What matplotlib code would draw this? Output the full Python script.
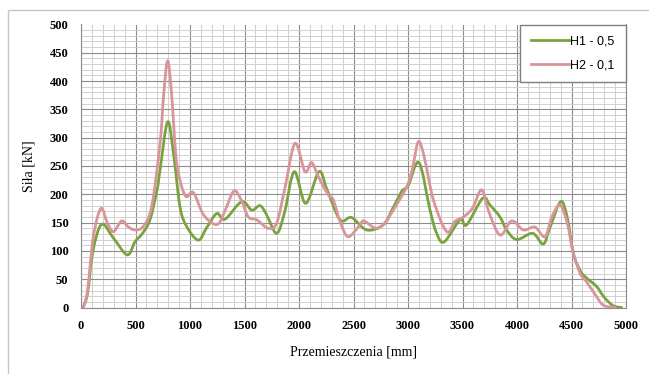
import numpy as np
import matplotlib
matplotlib.use("Agg")
import matplotlib.pyplot as plt
from matplotlib.path import Path
from matplotlib.patches import PathPatch, Rectangle
from matplotlib.lines import Line2D
from matplotlib.ticker import MultipleLocator

# values (x in mm, y in kN)
h1_x = [20, 60, 110, 190, 300, 425, 495, 560, 633, 700, 725, 795, 850, 908, 970,
        1076, 1150, 1245, 1321, 1474, 1566, 1642, 1700, 1795, 1870, 1957, 2061,
        2183, 2254, 2376, 2483, 2621, 2773, 2860, 2942, 3003, 3101, 3202, 3263,
        3333, 3477, 3538, 3685, 3752, 3844, 3905, 3997, 4144, 4241, 4300, 4400,
        4460, 4517, 4580, 4639, 4731, 4800, 4884, 4960]
h1_y = [0, 25, 100, 147, 122, 93, 116, 130, 155, 210, 243, 328, 270, 178, 143,
        119, 140, 166, 156, 187, 172, 180, 165, 131, 170, 240, 184,
        240, 210, 155, 159, 137, 146, 175, 205, 216, 256, 172, 131,
        116, 155, 146, 193, 181, 160, 137, 120, 131, 112, 140, 187,
        160, 96, 65, 52, 37, 18, 3, 0]

h2_x = [20, 60, 113, 183, 240, 297, 373, 430, 495, 570, 648, 725, 760, 795, 830,
        870, 908, 963, 1031, 1120, 1214, 1270, 1330, 1404, 1470, 1535, 1612,
        1718, 1795, 1870, 1963, 2055, 2116, 2180, 2269, 2315, 2380, 2452, 2560,
        2596, 2706, 2790, 2865, 2988, 3040, 3095, 3150, 3233, 3355, 3430, 3508,
        3590, 3676, 3740, 3844, 3951, 4058, 4165, 4257, 4320, 4394, 4460, 4517,
        4580, 4639, 4720, 4792, 4900]
h2_y = [0, 30, 125, 175, 150, 134, 153, 143, 137, 143, 178, 290, 380, 436, 380,
        270, 225, 196, 203, 165, 148, 150, 175, 206, 190, 160, 155,
        140, 149, 210, 290, 240, 256, 230, 199, 190, 150, 125, 146,
        153, 140, 150, 172, 213, 245, 293, 265, 190, 134, 152, 160,
        175, 208, 170, 128, 153, 137, 142, 125, 160, 181, 150, 96,
        60, 45, 22, 4, 0]

labels = ["H1 - 0,5", "H2 - 0,1"]
colors = ["#7aa33f", "#d99599"]


def smooth_path(x, y, sx=5000.0, sy=500.0):
    # Excel-style smoothed line: cubic Bezier segments, Catmull-Rom tangents
    p = np.column_stack([np.asarray(x, float) / sx, np.asarray(y, float) / sy])
    n = len(p)
    verts = [p[0]]
    codes = [Path.MOVETO]
    for i in range(n - 1):
        p0 = p[i - 1] if i > 0 else p[i]
        p3 = p[i + 2] if i + 2 < n else p[i + 1]
        c1 = p[i] + (p[i + 1] - p0) / 6.0
        c2 = p[i + 1] - (p3 - p[i]) / 6.0
        verts += [c1, c2, p[i + 1]]
        codes += [Path.CURVE4] * 3
    verts = np.array(verts) * [sx, sy]
    return Path(verts, codes)


fig = plt.figure(figsize=(6.49, 3.74), dpi=100)
ax = fig.add_axes([81 / 649, 1 - 307.5 / 374, 545 / 649, 283 / 374])

# outer chart-area frame
fig.patches.append(Rectangle((8 / 649, -0.1), 1.2, 1 - 10 / 374 + 0.1,
                             transform=fig.transFigure, fill=False,
                             edgecolor="#c6c6c6", linewidth=1.0))

ax.set_xlim(0, 5000)
ax.set_ylim(0, 500)
ax.xaxis.set_major_locator(MultipleLocator(500))
ax.xaxis.set_minor_locator(MultipleLocator(100))
ax.yaxis.set_major_locator(MultipleLocator(50))
ax.yaxis.set_minor_locator(MultipleLocator(10))
ax.grid(which="major", color="#8c8c8c", linewidth=0.8)
ax.grid(which="minor", color="#d0d0d0", linewidth=0.7)
ax.set_axisbelow(True)
for s in ax.spines.values():
    s.set_color("#8c8c8c")
    s.set_linewidth(0.8)
ax.spines["top"].set_visible(False)

ax.tick_params(which="both", length=0)
ax.tick_params(axis="x", pad=9)
ax.tick_params(axis="y", pad=9)
for t in ax.get_xticklabels() + ax.get_yticklabels():
    t.set_fontfamily("Liberation Serif")
    t.set_fontweight("bold")
    t.set_fontsize(9)

for xs, ys, c in zip([h1_x, h2_x], [h1_y, h2_y], colors):
    ax.add_patch(PathPatch(smooth_path(xs, ys), fill=False, edgecolor=c,
                           linewidth=2.0, capstyle="round", joinstyle="round"))

ax.set_xlabel("Przemieszczenia [mm]", fontfamily="Liberation Serif",
              fontsize=10, labelpad=10)
ax.set_ylabel("Siła [kN]", fontfamily="Liberation Serif", fontsize=10,
              labelpad=10)

handles = [Line2D([], [], color=c, linewidth=2.0) for c in colors]
leg = ax.legend(handles, labels, loc="upper right", bbox_to_anchor=(1.0, 1.0),
                borderaxespad=0.0, frameon=True, fancybox=False,
                borderpad=0.9, labelspacing=0.9, handlelength=3.0,
                handletextpad=0.15,
                prop={"family": "Liberation Sans", "size": 9})
leg.get_frame().set_edgecolor("#7f7f7f")
leg.get_frame().set_linewidth(1.0)
leg.get_frame().set_alpha(1.0)

fig.savefig("out.png", dpi=100)
